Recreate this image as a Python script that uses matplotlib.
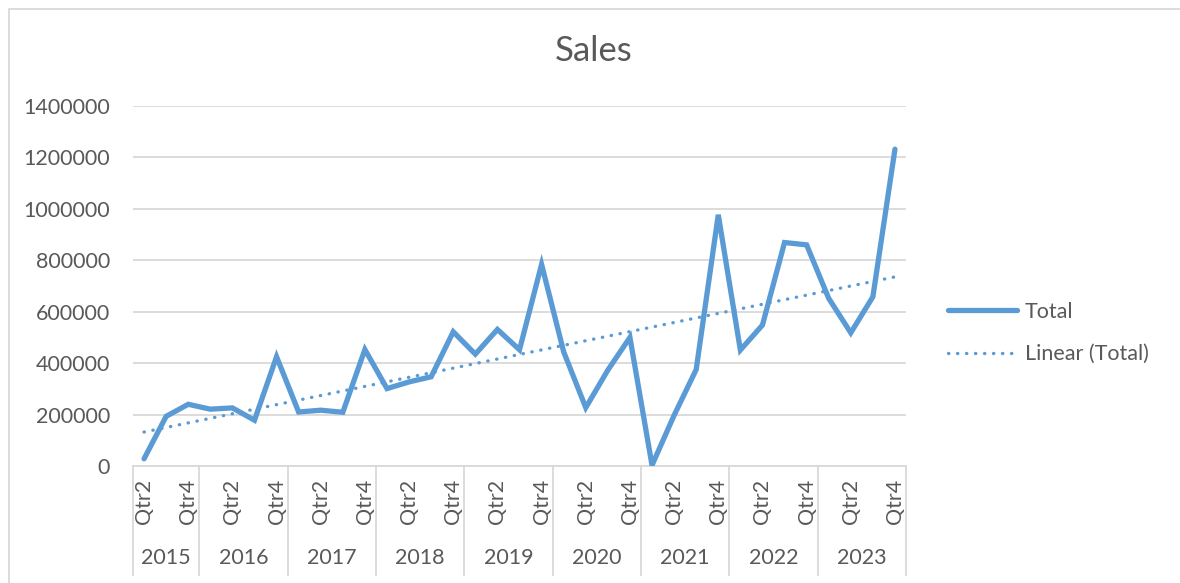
import numpy as np
import matplotlib
matplotlib.use("Agg")
import matplotlib.pyplot as plt
import matplotlib.transforms as mtransforms

# ---- data ----
years = ["2015", "2016", "2017", "2018", "2019", "2020", "2021", "2022", "2023"]
quarters_per_year = [3, 4, 4, 4, 4, 4, 4, 4, 4]
quarter_labels = (["Qtr2", "Qtr3", "Qtr4"] + ["Qtr1", "Qtr2", "Qtr3", "Qtr4"] * 8)
total = [28000, 193000, 240000, 221000, 226000, 178000, 425000,
         210000, 217000, 209000, 453000,
         301000, 327000, 347000, 522000,
         435000, 531000, 452000, 784000,
         444000, 227000, 373000, 500000,
         3000, 197000, 375000, 977000,
         451000, 548000, 869000, 860000,
         652000, 518000, 658000, 1232000]
yticks = [0, 200000, 400000, 600000, 800000, 1000000, 1200000, 1400000]

plt.rcParams['font.family'] = ['Lato', 'DejaVu Sans']
TXT = '#595959'
GRID = '#d9d9d9'
BLUE = '#5B9BD5'

W, H = 1180, 583
fig = plt.figure(figsize=(W / 100, H / 100), dpi=100)

# chart border
fig.patches.append(plt.Rectangle((8.5 / W, -0.05), (W + 20) / W, 1 - 8.5 / H + 0.05,
                                 transform=fig.transFigure, fill=False,
                                 edgecolor=GRID, linewidth=1.3))

left, right, bottom, top = 133, 906, 466, 106
ax = fig.add_axes([left / W, 1 - bottom / H, (right - left) / W, (bottom - top) / H])

n = len(total)
x = np.arange(n)
ax.plot(x, total, color=BLUE, linewidth=3.8, solid_joinstyle='miter',
        solid_capstyle='round', label='Total', zorder=3)

coef = np.polyfit(x, total, 1)
trend = np.polyval(coef, x)
ax.plot(x, trend, color=BLUE, linewidth=2.4, linestyle=(0, (0.1, 2.6)),
        dash_capstyle='round', label='Linear (Total)', zorder=2)

ax.set_xlim(-0.5, n - 0.5)
ax.set_ylim(0, 1400000)
ax.set_yticks(yticks)
ax.set_yticklabels([str(v) for v in yticks])
ax.tick_params(axis='y', length=0, pad=16.5, labelsize=15.5, labelcolor=TXT)
ax.set_xticks([])
for s in ['top', 'right', 'left']:
    ax.spines[s].set_visible(False)
ax.spines['bottom'].set_color(GRID)
ax.spines['bottom'].set_linewidth(1.3)
ax.grid(axis='y', color=GRID, linewidth=1.3)
ax.set_axisbelow(True)

# category labels (every other)
trans = mtransforms.blended_transform_factory(ax.transData, ax.transAxes)
for i in range(0, n, 2):
    ax.text(i, -0.036, quarter_labels[i], rotation=90, ha='center', va='top',
            fontsize=15.5, color=TXT, transform=trans)

# year groups
start = -0.5
sep_bottom = -(575 - bottom) / (bottom - top)
ax.plot([start, start], [0, sep_bottom], color=GRID, lw=1.3, transform=trans, clip_on=False)
for yr, q in zip(years, quarters_per_year):
    end = start + q
    ax.plot([end, end], [0, sep_bottom], color=GRID, lw=1.3, transform=trans, clip_on=False)
    ax.text((start + end) / 2, -(558 - bottom) / (bottom - top), yr, ha='center', va='center',
            fontsize=15.5, color=TXT, transform=trans)
    start = end

fig.text(594 / W, 1 - 51 / H, 'Sales', ha='center', va='center', fontsize=25, color=TXT)

leg = ax.legend(loc='center left', bbox_to_anchor=(929 / W, 1 - 333 / H),
                bbox_transform=fig.transFigure, frameon=False, fontsize=15.5,
                handlelength=3.2, handletextpad=0.35, labelspacing=1.05)
for t in leg.get_texts():
    t.set_color(TXT)

fig.savefig('out.png', dpi=100, facecolor='white')
